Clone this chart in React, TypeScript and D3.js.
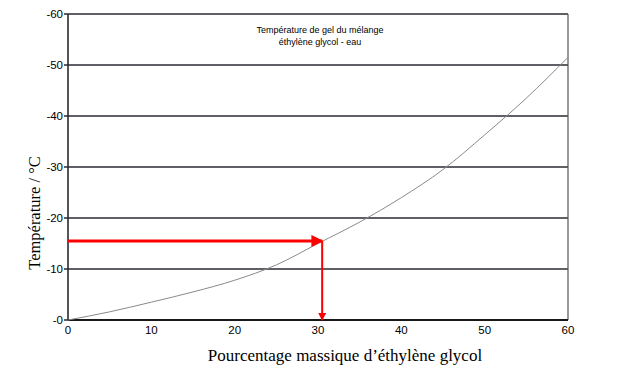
import React from "react";
import * as d3 from "d3";

const xValues = [0, 5, 10, 15, 20, 25, 30, 35, 40, 45, 50, 55, 60];
const tempValues = [0, -1.6, -3.5, -5.5, -7.8, -10.8, -15, -19.2, -24, -29.5, -36.3, -43.5, -51.5];
const xTicks = [0, 10, 20, 30, 40, 50, 60];
const yTicks = [0, -10, -20, -30, -40, -50, -60];
const readX = [30.5];
const readY = [-15.5];

const W = 628, H = 385;
const left = 68, right = 568, top = 14, bottom = 320;

export default function App() {
  const x = d3.scaleLinear().domain([0, 60]).range([left, right]);
  const y = d3.scaleLinear().domain([0, -60]).range([bottom, top]);
  const pts = xValues.map((v, i) => [v, tempValues[i]] as [number, number]);
  const line = d3.line<[number, number]>().x(d => x(d[0])).y(d => y(d[1])).curve(d3.curveMonotoneX);
  const ax = x(readX[0]);
  const ay = y(readY[0]);
  return (
    <svg width={W} height={H} style={{ position: "absolute", left: 0, top: 0, background: "#fff" }}>
      <defs>
        <marker id="ah" viewBox="0 0 10 10" refX="9" refY="5" markerWidth="4" markerHeight="4" orient="auto">
          <path d="M0,0 L10,5 L0,10 z" fill="#f00" />
        </marker>
      </defs>
      {yTicks.map(t => (
        <g key={t}>
          <line x1={left - 4} x2={right} y1={y(t)} y2={y(t)} stroke="#2a2a33" strokeWidth={1.6} />
          <text x={left - 5} y={y(t) + 4} textAnchor="end" fontFamily="Liberation Sans, Arial" fontSize={11.5} fill="#000">
            {"-" + Math.abs(t)}
          </text>
        </g>
      ))}
      <line x1={left} x2={left} y1={top} y2={bottom} stroke="#2a2a33" strokeWidth={1.6} />
      <line x1={right} x2={right} y1={top} y2={bottom} stroke="#555" strokeWidth={1.2} />
      <line x1={left} x2={right} y1={bottom} y2={bottom} stroke="#000" strokeWidth={1.6} />
      {xTicks.map(t => (
        <text key={t} x={x(t)} y={bottom + 14} textAnchor="middle" fontFamily="Liberation Sans, Arial" fontSize={11.5} fill="#000">
          {t}
        </text>
      ))}
      <path d={line(pts) || ""} fill="none" stroke="#8a8a8a" strokeWidth={1} />
      <line x1={left} x2={ax} y1={ay} y2={ay} stroke="#f00" strokeWidth={3} markerEnd="url(#ah)" />
      <line x1={ax} x2={ax} y1={ay} y2={bottom} stroke="#f00" strokeWidth={2} markerEnd="url(#ah)" />
      <text x={320} y={33} textAnchor="middle" fontFamily="Liberation Sans, Arial" fontSize={9} fill="#000">
        Température de gel du mélange
      </text>
      <text x={320} y={45} textAnchor="middle" fontFamily="Liberation Sans, Arial" fontSize={9} fill="#000">
        éthylène glycol - eau
      </text>
      <text transform={`translate(40,${213}) rotate(-90)`} textAnchor="middle" fontFamily="Liberation Serif, Times New Roman" fontSize={16.5} fill="#000">
        Température / °C
      </text>
      <text x={345} y={361} textAnchor="middle" fontFamily="Liberation Serif, Times New Roman" fontSize={17} fill="#000">
        Pourcentage massique d’éthylène glycol
      </text>
    </svg>
  );
}
